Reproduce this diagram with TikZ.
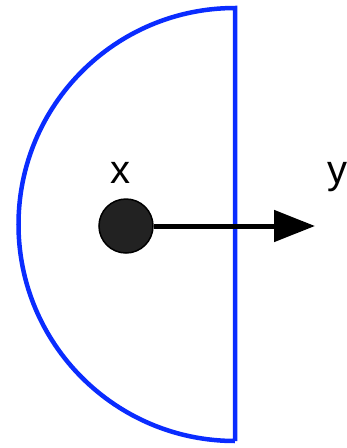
\documentclass[tikz,border=0pt]{standalone}
\usepackage{fontspec}
\setmainfont{Liberation Sans}
\usetikzlibrary{arrows.meta}
\definecolor{HalfBlue}{HTML}{0A2CFF}
\definecolor{DotGrey}{HTML}{222222}
\tikzset{
  halfdisc/.style={draw=HalfBlue,line width=4.5pt},
  pointdot/.style={circle,draw=black,fill=DotGrey,line width=1.5pt,minimum size=54pt,inner sep=0pt},
  axisarrow/.style={-{Triangle[length=41pt,width=31pt]},draw=black,line width=5pt},
  axislabel/.style={font=\fontsize{40}{40}\selectfont,anchor=base,inner sep=0pt}
}
\begin{document}
\begin{tikzpicture}[x=1pt,y=-1pt]
  \useasboundingbox (0,0) rectangle (347,448);
  % half disc
  \coordinate (top) at (235,8);
  \coordinate (bottom) at (235,441);
  \draw[halfdisc] (bottom) -- (top) arc[start angle=270,end angle=90,radius=216.5];
  % point and direction
  \node[pointdot] (px) at (126,226) {};
  \coordinate (ytip) at (315,226);
  \draw[axisarrow] (px) -- (ytip);
  \node[axislabel] (xlabel) at (120,183) {x};
  \node[axislabel] (ylabel) at (337,183) {y};
\end{tikzpicture}
\end{document}
